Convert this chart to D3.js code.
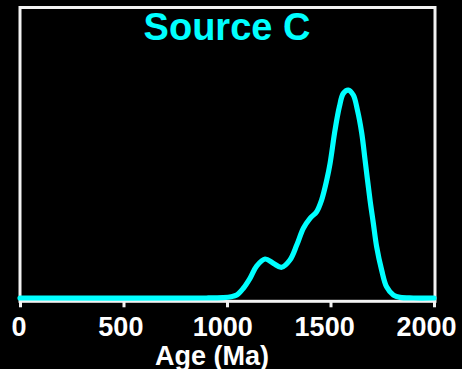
<!DOCTYPE html>
<html>
<head>
<meta charset="utf-8">
<script src="https://cdn.jsdelivr.net/npm/d3@7/dist/d3.min.js"></script>
<style>
  html, body { margin: 0; padding: 0; background: #000; }
  svg { display: block; }
  text { font-family: "Liberation Sans", Arial, sans-serif; font-weight: bold; }
</style>
</head>
<body>
<svg id="chart" width="462" height="369"></svg>
<script>
// Age distribution (relative probability density) for Source C
const ages = [0, 900, 980, 1020, 1047, 1079, 1111, 1143, 1184, 1224, 1264, 1304, 1337,
  1369, 1401, 1433, 1457, 1482, 1498, 1522, 1543, 1562, 1586, 1610, 1630, 1651, 1667,
  1691, 1707, 1723, 1747, 1771, 1804, 1836, 1900, 2000];
const density = [0, 0, 0.002, 0.006, 0.014, 0.047, 0.095, 0.154, 0.188, 0.167, 0.148, 0.183, 0.255,
  0.336, 0.384, 0.416, 0.472, 0.569, 0.649, 0.81, 0.922, 0.986, 1.002, 0.978, 0.906, 0.794, 0.665,
  0.472, 0.36, 0.247, 0.135, 0.054, 0.014, 0.003, 0, 0];
const xTicks = [0, 500, 1000, 1500, 2000];
const title = "Source C";
const xLabel = "Age (Ma)";

const svg = d3.select("#chart");
const cyan = "#00ffff";

const x = d3.scaleLinear().domain([0, 2000]).range([20, 434]);
const y = d3.scaleLinear().domain([0, 1.4]).range([298, 7.5]);

// plot frame
svg.append("rect")
  .attr("x", 20).attr("y", 7.5)
  .attr("width", 415).attr("height", 293.8)
  .attr("fill", "none")
  .attr("stroke", "#f2f2f2")
  .attr("stroke-width", 3);

// x axis ticks and labels
const axis = svg.append("g")
  .attr("transform", "translate(0,301.3)")
  .call(d3.axisBottom(x).tickValues(xTicks).tickSize(6).tickPadding(9).tickFormat(d3.format("d")));
axis.select(".domain").remove();
axis.selectAll(".tick line").attr("stroke", "#f2f2f2").attr("stroke-width", 3);
axis.selectAll(".tick text")
  .attr("fill", "#fff")
  .attr("font-size", 27)
  .attr("font-family", "Liberation Sans, Arial, sans-serif")
  .attr("font-weight", "bold")
  .attr("dy", "0.72em")
  .attr("dx", d => -1.5 - d / 2000 * 6.5);

// density curve
const pts = ages.map((a, i) => [a, density[i]]);
svg.append("path")
  .datum(pts)
  .attr("d", d3.line().x(d => x(d[0])).y(d => y(d[1])).curve(d3.curveCatmullRom.alpha(0.5)))
  .attr("fill", "none")
  .attr("stroke", cyan)
  .attr("stroke-width", 5.2)
  .attr("stroke-linecap", "round")
  .attr("stroke-linejoin", "round");

// title
svg.append("text")
  .attr("x", 227).attr("y", 40)
  .attr("text-anchor", "middle")
  .attr("fill", cyan)
  .attr("font-size", 38)
  .text(title);

// axis title (sits at the lower edge, descenders run off the bottom)
svg.append("text")
  .attr("x", 212).attr("y", 365)
  .attr("text-anchor", "middle")
  .attr("fill", "#fff")
  .attr("font-size", 27)
  .text(xLabel);
</script>
</body>
</html>
